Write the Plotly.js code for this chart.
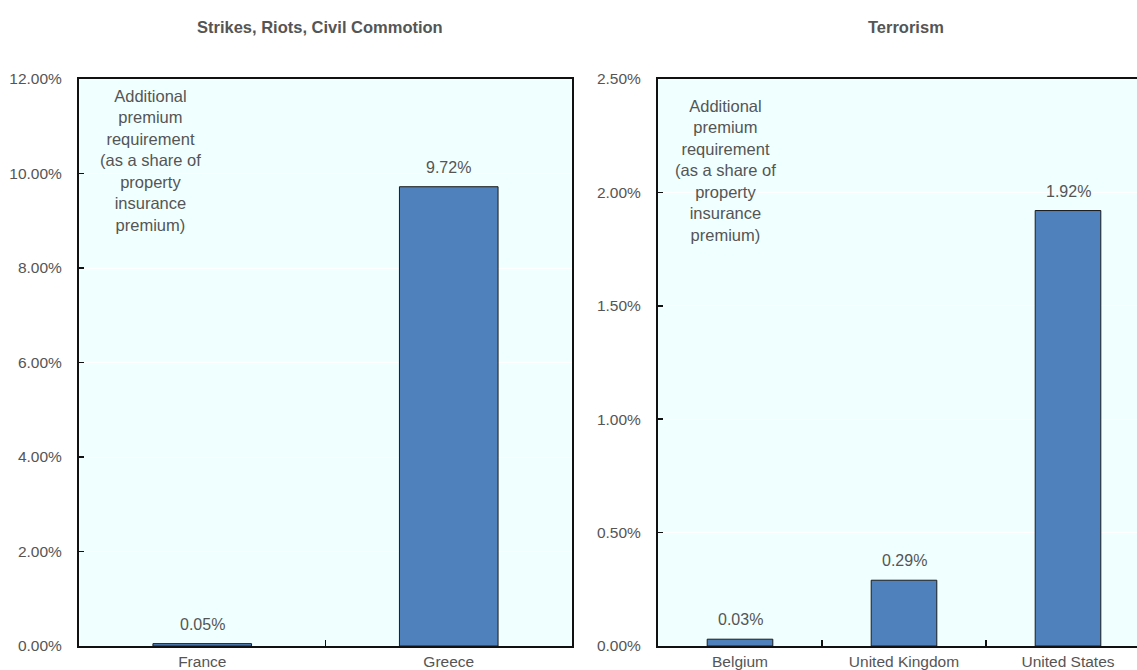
<!DOCTYPE html>
<html>
<head>
<meta charset="utf-8">
<script src="https://cdn.plot.ly/plotly-3.0.1.min.js"></script>
<style>
html, body { margin: 0; padding: 0; overflow: hidden; background: #fff; }
#chart { width: 1160px; height: 670px; }
</style>
</head>
<body>
<div id="chart"></div>
<script>
// Data
const srccCategories = ["France", "Greece"];
const srccValues = [0.0005, 0.0972];
const terrCategories = ["Belgium", "United Kingdom", "United States"];
const terrValues = [0.0003, 0.0029, 0.0192];
const panelTitles = ["Strikes, Riots, Civil Commotion", "Terrorism"];
const noteText = "Additional<br>premium<br>requirement<br>(as a share of<br>property<br>insurance<br>premium)";

const W = 1160, H = 670;
const FONT = '"Liberation Sans", Arial, sans-serif';
const TXT = '#555555';
const BAR = '#4F81BD';
const BG = '#F0FFFF';

const px = v => v / W;
const py = v => (H - v) / H;

const fmt = v => (v * 100).toFixed(2) + '%';

const traces = [
  {
    type: 'bar', x: srccCategories, y: srccValues, xaxis: 'x', yaxis: 'y',
    width: 0.4,
    marker: { color: BAR, line: { color: '#1a1a1a', width: 1 } },
    hoverinfo: 'none', showlegend: false
  },
  {
    type: 'bar', x: terrCategories, y: terrValues, xaxis: 'x2', yaxis: 'y2',
    width: 0.4,
    marker: { color: BAR, line: { color: '#1a1a1a', width: 1 } },
    hoverinfo: 'none', showlegend: false
  }
];

const annotations = [];
srccCategories.forEach((c, i) => annotations.push({
  xref: 'x', yref: 'y', x: c, y: srccValues[i], text: fmt(srccValues[i]),
  showarrow: false, yanchor: 'bottom', yshift: 9,
  font: { family: FONT, size: 16, color: TXT }
}));
terrCategories.forEach((c, i) => annotations.push({
  xref: 'x2', yref: 'y2', x: c, y: terrValues[i], text: fmt(terrValues[i]),
  showarrow: false, yanchor: 'bottom', yshift: 9,
  font: { family: FONT, size: 16, color: TXT }
}));
annotations.push({
  xref: 'paper', yref: 'paper', x: px(320), y: py(27), text: '<b>' + panelTitles[0] + '</b>',
  showarrow: false, xanchor: 'center', yanchor: 'middle',
  font: { family: FONT, size: 16.5, color: TXT }
});
annotations.push({
  xref: 'paper', yref: 'paper', x: px(906), y: py(27), text: '<b>' + panelTitles[1] + '</b>',
  showarrow: false, xanchor: 'center', yanchor: 'middle',
  font: { family: FONT, size: 16.5, color: TXT }
});
annotations.push({
  xref: 'paper', yref: 'paper', x: px(150), y: py(85), text: noteText,
  showarrow: false, xanchor: 'center', yanchor: 'top', align: 'center',
  font: { family: FONT, size: 16.5, color: TXT }
});
annotations.push({
  xref: 'paper', yref: 'paper', x: px(725), y: py(95), text: noteText,
  showarrow: false, xanchor: 'center', yanchor: 'top', align: 'center',
  font: { family: FONT, size: 16.5, color: TXT }
});

const xCommon = {
  type: 'category', showline: true, mirror: true, linecolor: '#111', linewidth: 2,
  ticks: 'inside', tickson: 'boundaries', ticklen: 6, tickwidth: 1.5, tickcolor: '#111',
  showgrid: false, zeroline: false, fixedrange: true, ticklabelstandoff: 0,
  tickfont: { family: FONT, size: 15.5, color: TXT }
};
const yCommon = {
  showline: true, mirror: true, linecolor: '#111', linewidth: 2,
  ticks: 'inside', ticklen: 5, tickwidth: 1.5, tickcolor: '#111',
  showgrid: true, gridcolor: '#ffffff', gridwidth: 1, zeroline: false, fixedrange: true,
  tickformat: '.2%', ticklabelstandoff: 12,
  tickfont: { family: FONT, size: 15.5, color: TXT }
};

const layout = {
  width: W, height: H,
  margin: { l: 0, r: 0, t: 0, b: 0 },
  paper_bgcolor: '#ffffff', plot_bgcolor: BG,
  showlegend: false,
  xaxis: Object.assign({}, xCommon, { domain: [px(79), px(572)], anchor: 'y', range: [-0.5, 1.5] }),
  yaxis: Object.assign({}, yCommon, { domain: [py(646), py(79)], anchor: 'x', range: [0, 0.12], dtick: 0.02, tick0: 0 }),
  xaxis2: Object.assign({}, xCommon, { domain: [px(658), px(1150)], anchor: 'y2', range: [-0.5, 2.5] }),
  yaxis2: Object.assign({}, yCommon, { domain: [py(646), py(79)], anchor: 'x2', range: [0, 0.025], dtick: 0.005, tick0: 0 }),
  annotations: annotations
};

Plotly.newPlot('chart', traces, layout, { displayModeBar: false, staticPlot: true });
</script>
</body>
</html>
